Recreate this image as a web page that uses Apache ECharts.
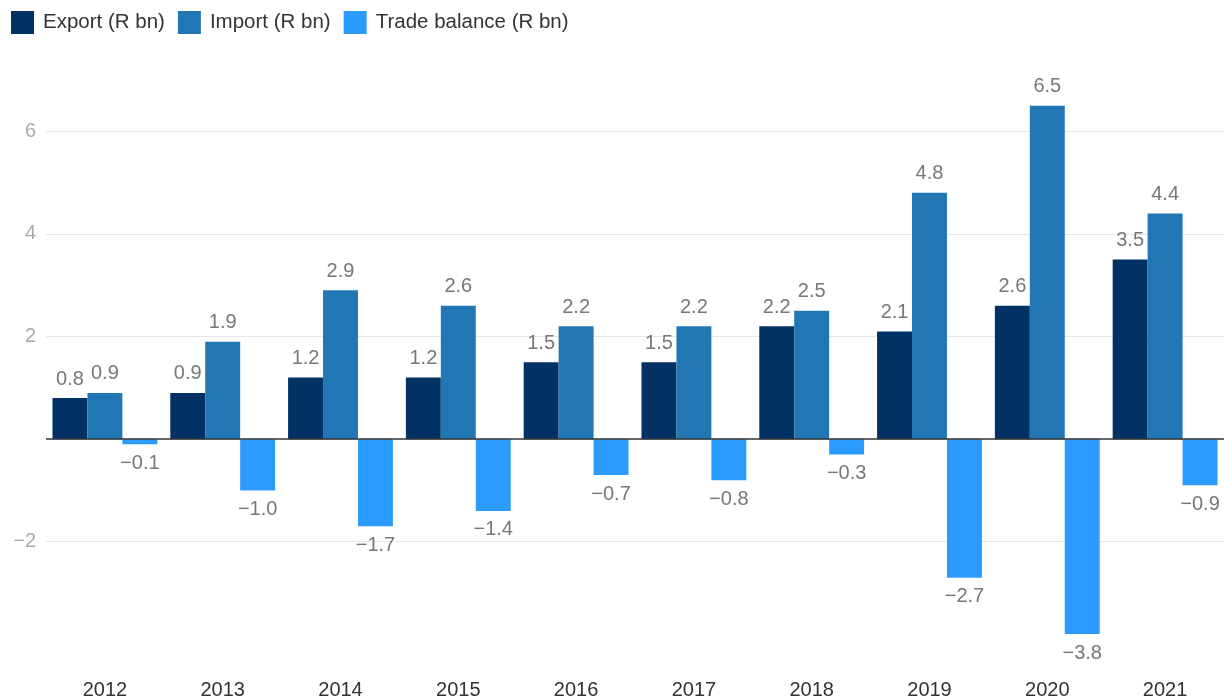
<!DOCTYPE html>
<html>
<head>
<meta charset="utf-8">
<script src="https://cdn.jsdelivr.net/npm/echarts@6/dist/echarts.min.js"></script>
<style>
  html, body { margin: 0; padding: 0; background: #fff; }
  #chart { width: 1224px; height: 700px; }
</style>
</head>
<body>
<div id="chart"></div>
<script>
const years = ['2012', '2013', '2014', '2015', '2016', '2017', '2018', '2019', '2020', '2021']
const exportVals = [0.8, 0.9, 1.2, 1.2, 1.5, 1.5, 2.2, 2.1, 2.6, 3.5]
const importVals = [0.9, 1.9, 2.9, 2.6, 2.2, 2.2, 2.5, 4.8, 6.5, 4.4]
const balanceVals = [-0.1, -1.0, -1.7, -1.4, -0.7, -0.8, -0.3, -2.7, -3.8, -0.9]
const yTicks = [-2, 2, 4, 6]

const font = '"Liberation Sans", Arial, sans-serif'

const fmt = (v) => v.toFixed(1).replace('-', '\u2212')

const barLabel = (position) => ({
  show: true,
  position: position,
  distance: 9,
  color: '#777',
  fontSize: 20,
  fontFamily: font,
  formatter: (p) => fmt(p.value)
})

const chart = echarts.init(document.getElementById('chart'))

chart.setOption({
  animation: false,
  textStyle: { fontFamily: font },
  legend: {
    left: 6,
    top: 6,
    itemWidth: 23,
    itemHeight: 23,
    itemGap: 13,
    icon: 'rect',
    textStyle: { color: '#333', fontSize: 20.5, fontFamily: font, padding: [0, 0, 0, 4] },
    data: ['Export (R bn)', 'Import (R bn)', 'Trade balance (R bn)']
  },
  grid: {
    left: 46,
    top: 80,
    width: 1180,
    height: 591,
    containLabel: false
  },
  xAxis: {
    type: 'category',
    data: years,
    axisLine: { show: false, onZero: false },
    axisTick: { show: false },
    axisLabel: { color: '#333', fontSize: 20, margin: 10, fontFamily: font }
  },
  yAxis: {
    type: 'value',
    min: -4.5,
    max: 7,
    axisLine: { show: false },
    axisTick: { show: false, customValues: yTicks },
    axisLabel: {
      color: '#aaa',
      fontSize: 20,
      margin: 10,
      fontFamily: font,
      customValues: yTicks,
      formatter: (v) => String(v).replace('-', '\u2212')
    },
    splitLine: { show: true, lineStyle: { color: '#e6e6e6', width: 1 } }
  },
  series: [
    {
      name: 'Export (R bn)',
      type: 'bar',
      data: exportVals,
      barGap: '0%',
      barCategoryGap: '11%',
      itemStyle: { color: '#023163' },
      label: barLabel('top'),
      markLine: {
        silent: true,
        symbol: 'none',
        label: { show: false },
        lineStyle: { color: '#333', width: 1.5, type: 'solid' },
        data: [{ yAxis: 0 }]
      }
    },
    {
      name: 'Import (R bn)',
      type: 'bar',
      data: importVals,
      barGap: '0%',
      barCategoryGap: '11%',
      itemStyle: { color: '#2077b4' },
      label: barLabel('top')
    },
    {
      name: 'Trade balance (R bn)',
      type: 'bar',
      data: balanceVals,
      barGap: '0%',
      barCategoryGap: '11%',
      itemStyle: { color: '#2c9bff' },
      label: barLabel('bottom')
    }
  ]
})

window.addEventListener('resize', chart.resize)
</script>
</body>
</html>
